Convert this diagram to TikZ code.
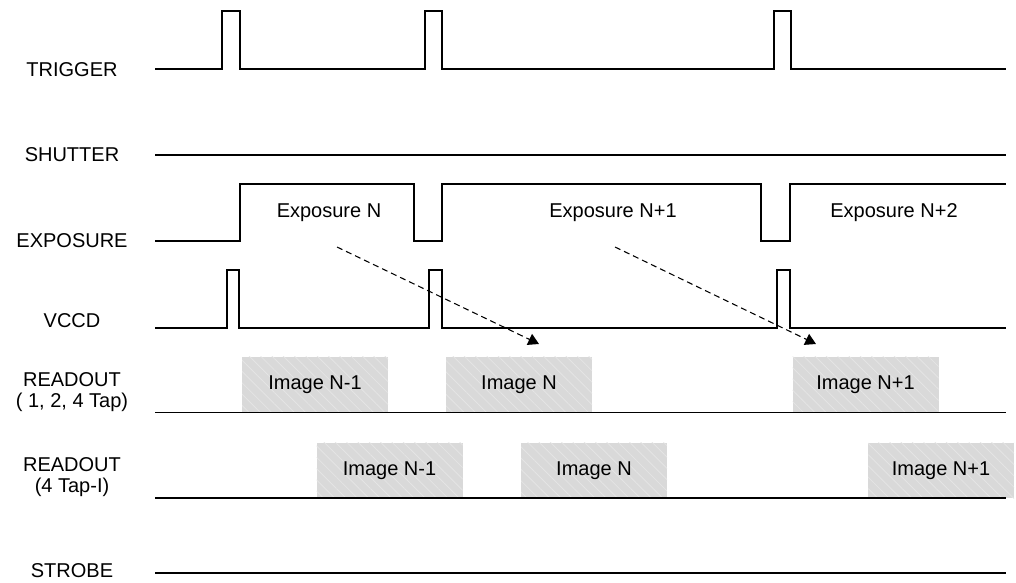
\documentclass[tikz,border=0pt]{standalone}
\usepackage{fontspec}
\setmainfont{Liberation Sans}
\usetikzlibrary{patterns.meta,arrows.meta}
\definecolor{boxgray}{HTML}{D9D9D9}
\begin{document}
\begin{tikzpicture}[x=0.75pt,y=-0.75pt,
  sig/.style={line width=1.1pt,line join=miter},
  lbl/.style={font=\fontsize{15}{15.75}\selectfont,align=center,inner sep=0pt},
  txt/.style={font=\fontsize{15}{15.75}\selectfont,inner sep=0pt},
  imgbox/.style={minimum width=109.5pt,minimum height=41.5pt,inner sep=0pt,outer sep=0pt,
    preaction={fill=boxgray},
    pattern={Lines[angle=-45,distance=6pt,line width=0.5pt]},pattern color=white!35!boxgray,
    font=\fontsize{15}{15.75}\selectfont},
  flow/.style={line width=0.8pt,dash pattern=on 4.5pt off 3pt,-{Triangle[length=8pt,width=9pt]}}]
\useasboundingbox (0,0) rectangle (1016,582);
% labels
\node[lbl] (ltrig) at (72,70) {TRIGGER};
\node[lbl] (lshut) at (72,155) {SHUTTER};
\node[lbl] (lexp) at (72,241) {EXPOSURE};
\node[lbl] (lvccd) at (72,321) {VCCD};
\node[lbl] (lro1) at (72,392) {READOUT\\( 1, 2, 4 Tap)};
\node[lbl] (lro2) at (72,477) {READOUT\\(4 Tap-I)};
\node[lbl] (lstr) at (72,571) {STROBE};
% readout boxes
\node[imgbox] (r1a) at (315,384.5) {Image N-1};
\node[imgbox] (r1b) at (519,384.5) {Image N};
\node[imgbox] (r1c) at (865.5,384.5) {Image N+1};
\node[imgbox] (r2a) at (389.5,470.5) {Image N-1};
\node[imgbox] (r2b) at (594,470.5) {Image N};
\node[imgbox] (r2c) at (941,470.5) {Image N+1};
% signals
\draw[sig] (155,69) -| (222,11) -| (240,69) -| (425,11) -| (442,69) -| (774,11) -| (791,69) -- (1006,69);
\draw[sig] (155,155) -- (1006,155);
\draw[sig] (155,241) -| (240,184) -| (414,241) -| (442,184) -| (761,241) -| (790,184) -- (1006,184);
\draw[sig] (155,328) -| (227,270) -| (239,328) -| (429,270) -| (442,328) -| (777,270) -| (790,328) -- (1006,328);
\draw[sig] (155,412.5) -- (1006,412.5);
\draw[sig] (155,498) -- (1006,498);
\draw[sig] (155,573) -- (1006,573);
% exposure labels
\node[txt] (e1) at (329,213) {Exposure N};
\node[txt] (e2) at (613,213) {Exposure N+1};
\node[txt] (e3) at (894,213) {Exposure N+2};
% arrows
\coordinate (a1s) at (337,247);
\coordinate (a1e) at (539,344);
\coordinate (a2s) at (615,247);
\coordinate (a2e) at (816,344);
\draw[flow] (a1s) -- (a1e);
\draw[flow] (a2s) -- (a2e);
\end{tikzpicture}
\end{document}
